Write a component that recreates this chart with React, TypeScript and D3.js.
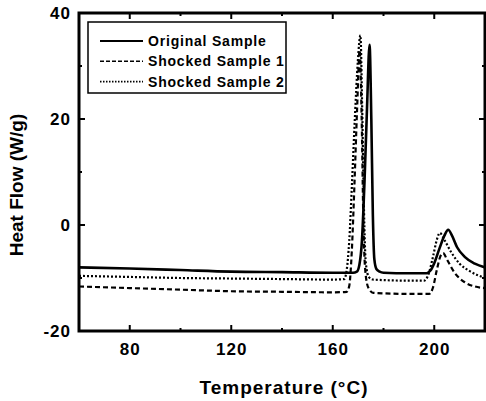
import React, { useRef, useEffect } from 'react';
import * as d3 from 'd3';

// [temperature °C, heat flow W/g]
const originalSample: [number, number][] = [
  [60, -8.0], [80, -8.2], [100, -8.5], [120, -8.8], [140, -8.9], [160, -9.0],
  [168, -9.0], [169.5, -8.8], [170.5, -7.5], [171.5, -3], [172.5, 8], [173.5, 22],
  [174.5, 34], [175.2, 20], [175.8, 2], [176.4, -6.5], [177.2, -8.3], [178.5, -8.8],
  [180, -9.0], [190, -9.1], [197, -9.1], [198.5, -8.6], [200, -7.2], [202, -4.5],
  [204, -2.0], [205.5, -0.9], [207, -2.0], [209, -4.2], [212, -6.0], [216, -7.3], [220, -8.0],
];

const shockedSample1: [number, number][] = [
  [60, -11.6], [80, -11.9], [100, -12.2], [120, -12.5], [140, -12.6], [160, -12.7],
  [165.5, -12.6], [166.5, -11.5], [167.5, -5], [168.5, 7], [169.6, 22], [170.6, 33],
  [171.4, 20], [172.1, 0], [172.8, -8.5], [174, -11.8], [176, -12.8], [190, -13.0],
  [198, -13.0], [199.5, -11.8], [201, -8.5], [202.5, -5.8], [203.5, -5.3], [205, -6.5],
  [208, -9.0], [212, -10.8], [216, -11.6], [220, -11.9],
];

const shockedSample2: [number, number][] = [
  [60, -9.6], [80, -9.8], [100, -10.0], [120, -10.1], [140, -10.2], [160, -10.3],
  [164.5, -10.2], [165.5, -8.5], [166.5, -3], [167.5, 7], [168.7, 20], [169.9, 31],
  [170.9, 35.8], [171.6, 22], [172.3, 3], [173, -7], [174.2, -9.8], [176, -10.3],
  [190, -10.5], [196, -10.5], [197.5, -9.6], [199.5, -6.0], [201, -2.8], [202.2, -1.5],
  [204, -2.8], [206.5, -5.0], [210, -7.3], [214, -8.7], [220, -10.0],
];

const series = [
  { name: 'Original Sample', values: originalSample, width: 2.6, dash: null },
  { name: 'Shocked Sample 1', values: shockedSample1, width: 2.2, dash: '5,3' },
  { name: 'Shocked Sample 2', values: shockedSample2, width: 2.2, dash: '2,2' },
];

const xMajor = [80, 120, 160, 200];
const xMinor = [100, 140, 180];
const yMajor = [-20, 0, 20, 40];
const yMinor = [-10, 10, 30];

const W = 486;
const H = 401;
const FONT = '"Liberation Sans", Arial, Helvetica, sans-serif';

const App = () => {
  const svgRef = useRef<SVGSVGElement>(null);

  useEffect(() => {
    const svg = d3.select(svgRef.current);
    svg.selectAll('*').remove();

    const left = 79, right = 485, top = 13, bottom = 331;
    const x = d3.scaleLinear().domain([60, 220]).range([left, right]);
    const y = d3.scaleLinear().domain([-20, 40]).range([bottom, top]);

    svg.append('defs').append('clipPath').attr('id', 'plot')
      .append('rect').attr('x', left).attr('y', top)
      .attr('width', right - left).attr('height', bottom - top);

    const line = d3.line<[number, number]>()
      .x(d => x(d[0]))
      .y(d => y(d[1]))
      .curve(d3.curveMonotoneX);

    const plot = svg.append('g').attr('clip-path', 'url(#plot)');
    series.forEach(s => {
      plot.append('path')
        .attr('d', line(s.values))
        .attr('fill', 'none')
        .attr('stroke', '#000')
        .attr('stroke-width', s.width)
        .attr('stroke-dasharray', s.dash)
        .attr('stroke-linejoin', 'round');
    });

    // frame
    svg.append('rect')
      .attr('x', left).attr('y', top)
      .attr('width', right - left).attr('height', bottom - top)
      .attr('fill', 'none').attr('stroke', '#000').attr('stroke-width', 3);

    // inward ticks on all four sides
    const ticks = svg.append('g').attr('stroke', '#000').attr('stroke-width', 2);
    const tickLen = (major: boolean) => (major ? 6 : 3);
    [...xMajor.map(v => [v, true]), ...xMinor.map(v => [v, false])].forEach(([v, m]) => {
      const px = x(v as number), l = tickLen(m as boolean);
      ticks.append('line').attr('x1', px).attr('x2', px).attr('y1', bottom).attr('y2', bottom - l);
      ticks.append('line').attr('x1', px).attr('x2', px).attr('y1', top).attr('y2', top + l);
    });
    [...yMajor.map(v => [v, true]), ...yMinor.map(v => [v, false])].forEach(([v, m]) => {
      const py = y(v as number), l = tickLen(m as boolean);
      ticks.append('line').attr('y1', py).attr('y2', py).attr('x1', left).attr('x2', left + l);
      ticks.append('line').attr('y1', py).attr('y2', py).attr('x1', right).attr('x2', right - l);
    });

    const labels = svg.append('g')
      .attr('font-family', FONT).attr('font-weight', 'bold').attr('font-size', 17)
      .attr('letter-spacing', 1).attr('fill', '#000');

    xMajor.forEach(v => {
      labels.append('text').attr('x', x(v) + 0.5).attr('y', 355)
        .attr('text-anchor', 'middle').text(v);
    });
    yMajor.forEach(v => {
      labels.append('text').attr('x', 71).attr('y', y(v) + 6)
        .attr('text-anchor', 'end').text(v);
    });

    svg.append('text')
      .attr('x', 284).attr('y', 394)
      .attr('text-anchor', 'middle')
      .attr('font-family', FONT).attr('font-weight', 'bold').attr('font-size', 19)
      .attr('letter-spacing', 1)
      .text('Temperature (°C)');

    svg.append('text')
      .attr('transform', 'translate(23,185) rotate(-90)')
      .attr('text-anchor', 'middle')
      .attr('font-family', FONT).attr('font-weight', 'bold').attr('font-size', 19)
      .text('Heat Flow (W/g)');

    // legend
    const legend = svg.append('g');
    legend.append('rect')
      .attr('x', 88).attr('y', 22).attr('width', 198).attr('height', 71)
      .attr('fill', '#fff').attr('stroke', '#000').attr('stroke-width', 1.5);
    series.forEach((s, i) => {
      const ly = 41 + i * 20.3;
      legend.append('line')
        .attr('x1', 100).attr('x2', 143).attr('y1', ly).attr('y2', ly)
        .attr('stroke', '#000')
        .attr('stroke-width', i === 0 ? 2 : 1.6)
        .attr('stroke-dasharray', i === 0 ? null : i === 1 ? '4,2' : '1.5,1.5');
      legend.append('text')
        .attr('x', 148).attr('y', ly + 5)
        .attr('font-family', FONT).attr('font-weight', 'bold').attr('font-size', 14)
        .attr('letter-spacing', 0.8)
        .text(s.name);
    });
  }, []);

  return (
    <svg ref={svgRef} width={W} height={H}
      style={{ position: 'absolute', left: 0, top: 0, background: '#fff' }} />
  );
};

export default App;
